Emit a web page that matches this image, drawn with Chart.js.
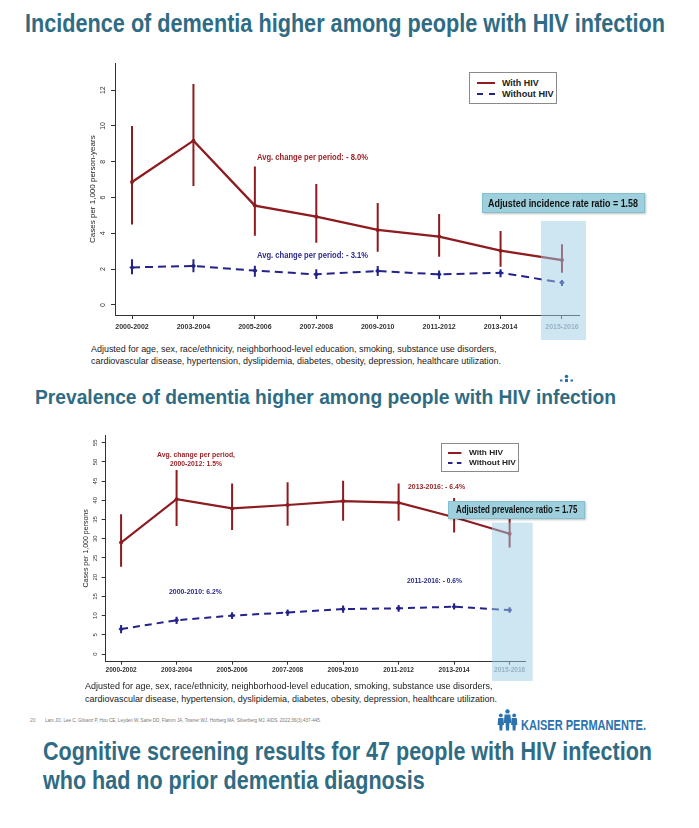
<!DOCTYPE html>
<html>
<head>
<meta charset="utf-8">
<script src="https://cdn.jsdelivr.net/npm/chart.js@4.4.1/dist/chart.umd.min.js"></script>
<style>
html,body{margin:0;padding:0;background:#fff;}
body{width:699px;height:828px;position:relative;overflow:hidden;font-family:'Liberation Sans',Arial,sans-serif;}
.abs{position:absolute;white-space:nowrap;display:inline-block;}
canvas{position:absolute;left:0;}
.box{position:absolute;box-sizing:border-box;}
</style>
</head>
<body>
<canvas id="inc" width="699" height="287" style="top:55px"></canvas>
<canvas id="prev" width="699" height="255" style="top:428px"></canvas>

<script>
// ---------------- DATA ----------------
const periods = ['2000-2002','2003-2004','2005-2006','2007-2008','2009-2010','2011-2012','2013-2014','2015-2016'];
const seriesLabels = ['With HIV','Without HIV'];

// Incidence (cases per 1,000 person-years)
const incWithHiv      = [6.87, 9.18, 5.55, 4.93, 4.19, 3.82, 3.03, 2.51];
const incWithHivLow   = [4.50, 6.65, 3.87, 3.48, 2.98, 2.70, 2.14, 1.80];
const incWithHivHigh  = [10.00, 12.35, 7.73, 6.76, 5.70, 5.08, 4.13, 3.39];
const incWithoutHiv     = [2.10, 2.18, 1.92, 1.71, 1.90, 1.71, 1.80, 1.25];
const incWithoutHivLow  = [1.71, 1.83, 1.58, 1.45, 1.62, 1.45, 1.55, 1.06];
const incWithoutHivHigh = [2.55, 2.55, 2.19, 1.99, 2.18, 1.92, 1.99, 1.40];
const incYTicks = [0, 2, 4, 6, 8, 10, 12];
const incYRange = [-0.56, 13.5];

// Prevalence (cases per 1,000 persons)
const prevWithHiv      = [29.0, 40.3, 37.9, 38.8, 39.8, 39.4, 35.6, 31.3];
const prevWithHivLow   = [22.7, 33.3, 32.3, 33.4, 34.7, 34.7, 31.6, 27.7];
const prevWithHivHigh  = [36.4, 47.9, 44.4, 44.7, 45.1, 44.4, 40.6, 35.3];
const prevWithoutHiv     = [6.5, 8.8, 10.0, 10.8, 11.7, 11.9, 12.3, 11.45];
const prevWithoutHivLow  = [5.4, 7.8, 9.1, 9.9, 10.75, 11.0, 11.6, 10.75];
const prevWithoutHivHigh = [7.55, 9.7, 10.85, 11.6, 12.6, 12.75, 13.2, 12.15];
const prevYTicks = [0, 5, 10, 15, 20, 25, 30, 35, 40, 45, 50, 55];
const prevYRange = [-2, 57];

const xRange = [-0.277, 7.277];

// ---------------- STYLE ----------------
const SANS = "'Liberation Sans', Arial, sans-serif";
const NARROW = "'Liberation Sans Narrow', 'Liberation Sans', Arial, sans-serif";
const RED = '#8e1b1f';
const BLUE = '#23238a';
const ANN_RED = '#9b2226';
const ANN_BLUE = '#2b2b8f';
const TITLE = '#2f6c84';

const highlightPlugin = {
  id: 'hl',
  afterDraw(chart, args, o) {
    const {ctx, scales: {x, y}} = chart;
    const x0 = x.getPixelForValue(o.from), x1 = x.getPixelForValue(o.to);
    const y0 = y.getPixelForValue(o.top);
    const y1 = chart.height - o.bottomGap;
    ctx.save();
    ctx.fillStyle = o.color;
    ctx.fillRect(x0, y0, x1 - x0, y1 - y0);
    ctx.restore();
  }
};

function buildChart(id, c) {
  const pts = arr => arr.map((v, i) => ({x: i, y: v}));
  const ci = (lo, hi) => lo.map((v, i) => ({x: i, y: [v, hi[i]]}));
  const axisGrid = tl => ({display: true, drawOnChartArea: false, drawTicks: true, tickLength: tl, color: '#333', lineWidth: 1, offset: false});
  return new Chart(document.getElementById(id), {
    type: 'line',
    data: {
      datasets: [
        {type: 'line', label: seriesLabels[0], data: pts(c.hiv), borderColor: RED, backgroundColor: RED,
         borderWidth: c.lw, pointRadius: 2, pointStyle: 'circle', pointBorderWidth: 0, tension: 0, order: 0},
        {type: 'line', label: seriesLabels[1], data: pts(c.nohiv), borderColor: BLUE, backgroundColor: BLUE,
         borderWidth: 2, borderDash: c.dash, pointRadius: 2.6, pointStyle: 'rectRot', pointBorderWidth: 0, tension: 0, order: 0},
        {type: 'bar', label: 'ci1', data: ci(c.hivLo, c.hivHi), backgroundColor: RED, borderWidth: 0,
         grouped: false, maxBarThickness: 2, order: 1},
        {type: 'bar', label: 'ci2', data: ci(c.nohivLo, c.nohivHi), backgroundColor: BLUE, borderWidth: 0,
         grouped: false, maxBarThickness: 2, order: 1}
      ]
    },
    options: {
      responsive: false, animation: false, devicePixelRatio: 1,
      layout: {padding: {left: c.padL, right: c.padR, top: c.padT, bottom: c.padB}},
      plugins: {
        legend: {display: false}, tooltip: {enabled: false},
        hl: {from: c.hlFrom, to: c.hlTo, top: c.hlTop, bottomGap: 2, color: 'rgba(158,204,230,0.5)'}
      },
      scales: {
        x: {
          type: 'linear', min: xRange[0], max: xRange[1], offset: false,
          afterBuildTicks: s => { s.ticks = periods.map((_, i) => ({value: i})); },
          afterFit: s => { s.height = c.xH; },
          ticks: {autoSkip: false, maxRotation: 0, minRotation: 0, padding: c.xPad,
                  font: {family: SANS, size: c.xFont, weight: 'bold'},
                  color: ctx => ctx.index === periods.length - 1 ? '#8e9ba4' : '#333',
                  callback: v => periods[Math.round(v)]},
          grid: axisGrid(c.xTl),
          border: {display: true, color: '#333', width: 1}
        },
        y: {
          type: 'linear', min: c.yRange[0], max: c.yRange[1],
          afterBuildTicks: s => { s.ticks = c.yTicks.map(v => ({value: v})); },
          afterFit: s => { s.width = c.yW; },
          ticks: {autoSkip: false, minRotation: 90, maxRotation: 90, crossAlign: 'center', padding: c.yPad,
                  font: {family: SANS, size: c.yFont}, color: '#333'},
          grid: axisGrid(4),
          border: {display: true, color: '#333', width: 1},
          title: {display: true, text: c.yTitle, color: '#222', font: {family: SANS, size: c.yTitleFont},
                  padding: {top: c.titlePad, bottom: 0}}
        }
      }
    },
    plugins: [highlightPlugin]
  });
}

buildChart('inc', {
  hiv: incWithHiv, hivLo: incWithHivLow, hivHi: incWithHivHigh,
  nohiv: incWithoutHiv, nohivLo: incWithoutHivLow, nohivHi: incWithoutHivHigh,
  yTicks: incYTicks, yRange: incYRange, yTitle: 'Cases per 1,000 person-years',
  lw: 2.3, dash: [8, 5],
  padL: 84, padR: 120, padT: 8, padB: 7, xH: 20, yW: 31,
  xFont: 7, xPad: 3.8, xTl: 4, yFont: 7, yPad: 4.1, yTitleFont: 8, titlePad: 4.2,
  hlFrom: 6.658, hlTo: 7.39, hlTop: 4.69
});

buildChart('prev', {
  hiv: prevWithHiv, hivLo: prevWithHivLow, hivHi: prevWithHivHigh,
  nohiv: prevWithoutHiv, nohivLo: prevWithoutHivLow, nohivHi: prevWithoutHivHigh,
  yTicks: prevYTicks, yRange: prevYRange, yTitle: 'Cases per 1,000 persons',
  lw: 2.1, dash: [7, 5],
  padL: 78, padR: 174, padT: 7, padB: 5.3, xH: 16, yW: 27.7,
  xFont: 6.5, xPad: 2.1, xTl: 3, yFont: 6, yPad: 3.4, yTitleFont: 7, titlePad: 3.8,
  hlFrom: 6.683, hlTo: 7.415, hlTop: 34.2
});

// ---------------- TEXT / ANNOTATIONS ----------------
function txt(str, o) {
  const el = document.createElement('div');
  el.className = 'abs';
  el.textContent = str;
  el.style.fontFamily = o.family || SANS;
  el.style.fontSize = o.size + 'px';
  el.style.lineHeight = o.size + 'px';
  el.style.fontWeight = o.bold ? 'bold' : 'normal';
  el.style.color = o.color || '#222';
  el.style.top = (o.base - 0.8465 * o.size) + 'px';
  el.style.left = '0px';
  el.style.zIndex = o.z || 5;
  document.body.appendChild(el);
  const nat = el.getBoundingClientRect().width;
  const sx = o.sx || (o.w ? o.w / nat : 1);
  const w = nat * sx;
  const left = (o.cx !== undefined) ? o.cx - w / 2 : o.x;
  el.style.left = left + 'px';
  el.style.transformOrigin = '0 0';
  el.style.transform = 'scaleX(' + sx + ')';
  return sx;
}
function box(x, y, w, h, css) {
  const el = document.createElement('div');
  el.className = 'box';
  el.style.left = x + 'px'; el.style.top = y + 'px';
  el.style.width = w + 'px'; el.style.height = h + 'px';
  Object.assign(el.style, css);
  el.style.zIndex = 4;
  document.body.appendChild(el);
  return el;
}
function legendSample(x, y, w, color, dashed, sw) {
  const ns = 'http://www.w3.org/2000/svg';
  const svg = document.createElementNS(ns, 'svg');
  svg.setAttribute('width', w); svg.setAttribute('height', 6);
  svg.style.position = 'absolute'; svg.style.left = x + 'px'; svg.style.top = (y - 3) + 'px'; svg.style.zIndex = 6;
  const ln = document.createElementNS(ns, 'line');
  ln.setAttribute('x1', 0); ln.setAttribute('x2', w); ln.setAttribute('y1', 3); ln.setAttribute('y2', 3);
  ln.setAttribute('stroke', color); ln.setAttribute('stroke-width', sw);
  if (dashed) ln.setAttribute('stroke-dasharray', dashed);
  svg.appendChild(ln);
  document.body.appendChild(svg);
}

// Titles
txt('Incidence of dementia higher among people with HIV infection', {x: 24.5, w: 640, size: 25, base: 31.7, bold: true, family: NARROW, color: TITLE});
txt('Prevalence of dementia higher among people with HIV infection', {x: 35, w: 581, size: 21, base: 403.3, bold: true, family: NARROW, color: TITLE});
const s3 = txt('Cognitive screening results for 47 people with HIV infection', {x: 43.3, w: 609, size: 25.5, base: 761, bold: true, family: NARROW, color: TITLE});
txt('who had no prior dementia diagnosis', {x: 43.3, sx: s3, size: 25.5, base: 789.3, bold: true, family: NARROW, color: TITLE});

// Footnotes
const fn1 = 'Adjusted for age, sex, race/ethnicity, neighborhood-level education, smoking, substance use disorders,';
const fn2 = 'cardiovascular disease, hypertension, dyslipidemia, diabetes, obesity, depression, healthcare utilization.';
let sf = txt(fn2, {x: 91, w: 410, size: 9.5, base: 364.2, color: '#1a1a1a'});
txt(fn1, {x: 91, sx: sf, size: 9.5, base: 351.6, color: '#1a1a1a'});
sf = txt(fn2, {x: 85, w: 412, size: 9.5, base: 701.8, color: '#1a1a1a'});
txt(fn1, {x: 85, sx: sf, size: 9.5, base: 689.2, color: '#1a1a1a'});

// Top chart annotations
txt('Avg. change per period: - 8.0%', {x: 257, w: 111, size: 9, base: 160.2, bold: true, family: NARROW, color: ANN_RED});
txt('Avg. change per period: - 3.1%', {x: 257, w: 111, size: 9, base: 258.2, bold: true, family: NARROW, color: ANN_BLUE});
box(482, 193, 163, 20, {background: '#9dd0dc', border: '1px solid #84bfce', boxShadow: '1px 1px 2px rgba(0,0,0,0.25)'});
txt('Adjusted incidence rate ratio = 1.58', {x: 488, w: 150, size: 11, base: 207, bold: true, family: NARROW, color: '#111', z: 6});
// Top legend
box(469, 72, 88, 32, {background: '#fff', border: '1px solid #8a8a8a'});
legendSample(477, 83, 18, RED, null, 2);
legendSample(477, 94, 18, BLUE, '6 6', 2);
txt(seriesLabels[0], {x: 501.7, w: 36.6, size: 8.5, base: 86.1, bold: true, family: NARROW, color: '#222', z: 6});
txt(seriesLabels[1], {x: 501.7, w: 51.6, size: 8.5, base: 97.1, bold: true, family: NARROW, color: '#222', z: 6});

// Bottom chart annotations
txt('Avg. change per period,', {cx: 195.7, w: 78, size: 8, base: 457.9, bold: true, family: NARROW, color: ANN_RED});
txt('2000-2012: 1.5%', {cx: 195.7, w: 52, size: 8, base: 467.2, bold: true, family: NARROW, color: ANN_RED});
txt('2000-2010: 6.2%', {cx: 195.7, w: 53, size: 8, base: 594.6, bold: true, family: NARROW, color: ANN_BLUE});
txt('2013-2016: - 6.4%', {x: 408, w: 57, size: 8, base: 489.6, bold: true, family: NARROW, color: ANN_RED});
txt('2011-2016: - 0.6%', {x: 406.7, w: 55, size: 8, base: 583.6, bold: true, family: NARROW, color: ANN_BLUE});
box(448, 501, 137, 18.3, {background: '#9dd0dc', border: '1px solid #84bfce', boxShadow: '1px 1px 2px rgba(0,0,0,0.25)'});
txt('Adjusted prevalence ratio = 1.75', {x: 456, w: 121.3, size: 10, base: 513.8, bold: true, family: NARROW, color: '#111', z: 6});
// Bottom legend
box(440.7, 442.7, 78.6, 29.6, {background: '#fff', border: '1px solid #8a8a8a'});
legendSample(448.3, 452.7, 13.4, RED, null, 2);
legendSample(448.3, 463.3, 13.4, BLUE, '4.5 4.4', 2);
txt(seriesLabels[0], {x: 469.3, w: 34, size: 8, base: 455.6, bold: true, family: NARROW, color: '#222', z: 6});
txt(seriesLabels[1], {x: 469.3, w: 46.7, size: 8, base: 466.2, bold: true, family: NARROW, color: '#222', z: 6});

// Citation & logo
txt('20', {x: 30, size: 5, base: 722.6, color: '#888'});
txt('Lam JO, Lee C, Gilsanz P, Hou CE, Leyden W, Satre DD, Flamm JA, Towner WJ, Horberg MA, Silverberg MJ. AIDS. 2022;36(3):437-445.', {x: 45, w: 276, size: 5, base: 722.6, color: '#777'});
txt('KAISER PERMANENTE.', {x: 521, w: 125, size: 14, base: 730.3, bold: true, family: NARROW, color: '#2b72ae'});
</script>
<svg style="position:absolute;left:497px;top:709px" width="21" height="22" viewBox="0 0 21 22">
  <g fill="#2b72ae">
    <circle cx="10.5" cy="2.4" r="2.2"/>
    <path d="M7.6 5.4 H13.4 L14.2 14 H12.4 L12 21.5 H9 L8.6 14 H6.8 Z"/>
    <circle cx="3.8" cy="6.4" r="1.9"/>
    <path d="M1.2 9 H6.4 L7 16 H5.6 L5.3 21.5 H2.5 L2.2 16 H0.6 Z"/>
    <circle cx="17.2" cy="6.4" r="1.9"/>
    <path d="M14.6 9 H19.8 L20.4 16 H18.8 L18.5 21.5 H15.7 L15.4 16 H14 Z"/>
  </g>
</svg>
<svg style="position:absolute;left:559px;top:374px" width="15" height="8" viewBox="0 0 15 8">
  <g fill="#2b72ae"><circle cx="7.5" cy="2.5" r="1.8"/><rect x="1" y="5.5" width="2.5" height="2"/><rect x="6" y="5" width="3" height="3"/><rect x="11.5" y="5.5" width="2.5" height="2"/></g>
</svg>
</body>
</html>
